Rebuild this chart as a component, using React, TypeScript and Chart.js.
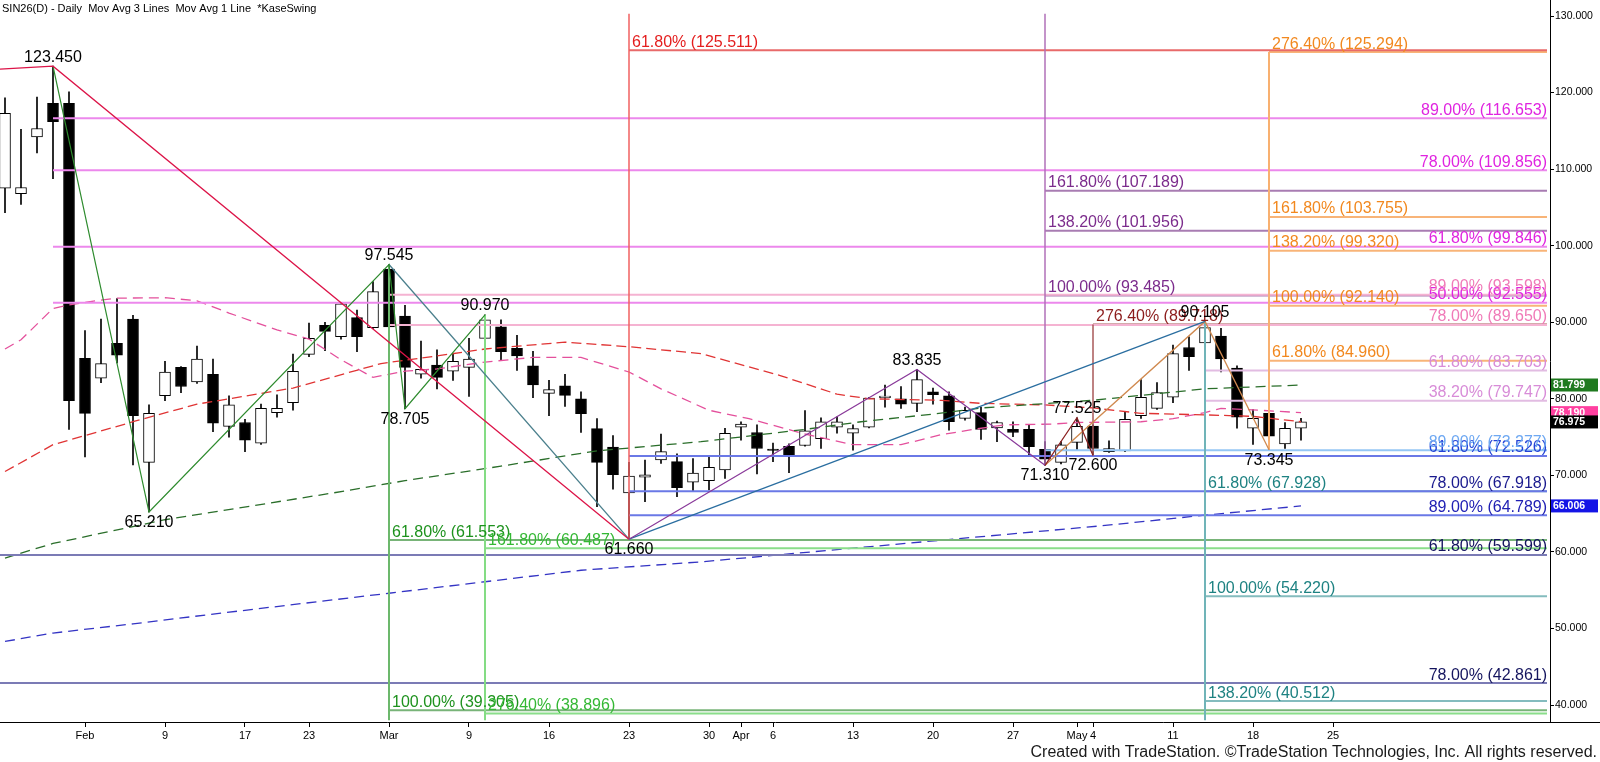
import React, { useEffect, useRef } from 'react';
import { Chart, registerables } from 'chart.js';

Chart.register(...registerables);

const FONT = '"Liberation Sans", Arial, Helvetica, sans-serif';

// ---- axis bounds (x = trading-day index, 0 = Jan 26 2026) ----
const X_MIN = -0.3125;
const X_MAX = 96.5625;
const Y_MIN = 37.78;
const Y_MAX = 132.09;
const LINE_END = 96.375;
const V_TOP = 130.3;
const V_BOTTOM = 38.0;

// ---- x tick labels ----
const xTickIdx = [5, 10, 15, 19, 24, 29, 34, 39, 44, 46, 48, 53, 58, 63, 67, 68, 73, 78, 83];
const xTickLabels = ['Feb', '9', '17', '23', 'Mar', '9', '16', '23', '30', 'Apr', '6', '13', '20', '27', 'May', '4', '11', '18', '25'];
const yTicks = [40, 50, 60, 70, 80, 90, 100, 110, 120, 130];

// ---- daily candles ----
const opens = [107.5, 106.8, 114.2, 118.6, 118.6, 85.3, 82.7, 87.25, 90.4, 71.7,
  80.4, 84.1, 82.2, 83.2, 76.4, 76.9, 74.2, 78.2, 79.5, 85.8,
  89.6, 88.1, 90.6, 89.3, 96.95, 90.8, 83.2, 84.4, 83.6, 84.1,
  87.9, 89.4, 86.6, 84.3, 80.7, 81.7, 80.0, 76.1, 73.7, 67.7,
  69.75, 72.0, 71.8, 69.1, 69.3, 70.7, 76.3, 75.6, 73.38, 73.8,
  73.9, 74.8, 76.3, 75.5, 76.3, 80.15, 80.0, 79.4, 80.9, 80.4,
  77.45, 78.2, 76.2, 76.0, 76.0, 73.4, 71.7, 74.3, 76.45, 73.1,
  73.2, 77.8, 78.75, 80.2, 86.7, 87.3, 88.2, 84.0, 76.15, 78.1,
  74.1, 76.15];
const highs = [119.3, 115.2, 119.4, 123.45, 120.1, 88.9, 90.4, 93.1, 90.9, 79.2,
  84.9, 84.2, 86.9, 85.2, 80.4, 77.3, 79.3, 80.5, 85.85, 89.9,
  90.0, 92.5, 91.6, 95.3, 97.545, 92.2, 87.55, 86.4, 85.8, 87.9,
  90.97, 90.3, 88.3, 86.2, 82.4, 83.2, 80.9, 77.4, 75.2, 71.7,
  72.0, 75.4, 72.8, 72.2, 72.45, 76.15, 77.0, 76.6, 74.2, 74.1,
  78.45, 77.5, 77.65, 76.6, 80.2, 81.8, 81.6, 83.835, 81.4, 80.9,
  78.9, 78.9, 77.1, 77.0, 76.6, 74.4, 74.4, 77.525, 76.6, 74.5,
  78.3, 82.5, 82.1, 87.0, 88.1, 90.105, 89.2, 84.3, 78.6, 79.4,
  76.9, 77.45];
const lows = [104.3, 105.4, 112.1, 108.75, 76.0, 72.4, 82.1, 84.7, 71.35, 65.21,
  79.75, 80.8, 82.0, 75.7, 75.0, 73.1, 74.05, 77.6, 78.5, 85.5,
  86.3, 87.8, 86.15, 89.2, 88.5, 78.705, 82.7, 81.3, 82.4, 80.3,
  86.8, 85.1, 83.7, 80.15, 77.8, 79.0, 75.6, 65.9, 68.2, 61.66,
  66.55, 71.55, 67.2, 67.9, 68.1, 69.6, 74.6, 70.2, 71.8, 70.35,
  73.8, 73.5, 75.5, 73.3, 76.2, 78.9, 78.75, 78.3, 79.3, 75.9,
  77.2, 74.7, 74.4, 75.05, 72.5, 71.31, 71.5, 73.4, 72.6, 73.0,
  73.1, 77.45, 78.6, 79.5, 83.7, 86.3, 83.5, 76.15, 74.05, 73.345,
  73.5, 74.6];
const closes = [117.3, 107.6, 115.3, 116.2, 79.75, 78.1, 84.6, 85.7, 77.8, 78.1,
  83.5, 81.6, 85.2, 76.8, 79.2, 74.6, 78.75, 78.75, 83.6, 87.9,
  88.8, 92.4, 88.1, 94.0, 89.4, 84.1, 83.85, 82.8, 84.9, 85.2,
  90.3, 86.15, 85.6, 81.8, 81.2, 80.45, 78.05, 71.7, 70.1, 69.9,
  70.05, 73.1, 68.4, 70.3, 71.05, 75.5, 76.7, 73.5, 73.25, 72.45,
  75.8, 77.0, 77.0, 76.1, 80.1, 80.3, 79.3, 82.5, 80.55, 77.0,
  78.5, 76.0, 76.9, 75.6, 73.75, 72.1, 74.0, 76.4, 73.5, 73.5,
  77.3, 80.2, 80.8, 85.9, 85.5, 89.3, 85.2, 77.6, 77.45, 75.1,
  76.15, 76.975];

// ---- moving averages (sampled) ----
const pinkMaIdx = [0, 1, 3, 4, 6, 7, 10, 12, 14, 17, 19, 21, 23, 25, 27, 30, 33, 36, 39, 41, 44, 46.5, 50, 53, 56, 58.5, 60.5, 62.5, 65.5, 67, 71, 73, 75, 76, 78, 81];
const pinkMaVal = [86.5, 87.7, 91.8, 92.25, 92.9, 93.15, 93.2, 92.8, 91.2, 89.0, 87.8, 85.1, 82.8, 83.6, 83.9, 84.8, 85.4, 85.4, 83.5, 81.3, 78.5, 77.4, 75.4, 74.0, 74.0, 75.3, 76.0, 76.6, 76.7, 76.9, 77.0, 77.4, 78.2, 78.75, 78.55, 78.19];
const redMaIdx = [0, 3, 8, 12, 18, 23.5, 27, 30, 35, 39, 43.5, 48.5, 52, 54, 58.5, 61, 65, 68, 71, 75, 78, 81];
const redMaVal = [70.5, 74.0, 77.0, 79.3, 81.4, 84.6, 85.6, 86.5, 87.4, 86.8, 85.9, 83.0, 80.6, 80.0, 79.8, 79.4, 79.2, 78.8, 78.1, 77.9, 77.7, 77.0];
const greenMaIdx = [0, 3, 10, 20.5, 25, 31, 37, 43.5, 50, 53.5, 58, 61, 68, 75, 81];
const greenMaVal = [59.2, 61.1, 64.2, 67.7, 69.3, 71.2, 73.2, 74.4, 76.0, 77.0, 78.0, 78.8, 79.8, 81.3, 81.8];
const blueMaIdx = [0, 3, 8, 13.5, 24, 30, 36, 43.5, 52, 68.5, 75, 81];
const blueMaVal = [48.3, 49.4, 50.6, 52.0, 54.6, 56.1, 57.6, 58.7, 60.3, 63.4, 64.8, 66.0];

// ---- swing lines ----
const crimsonSwingIdx = [X_MIN, 3, 39];
const crimsonSwingVal = [123.05, 123.45, 61.66];
const greenSwingIdx = [3, 9, 24, 25, 30];
const greenSwingVal = [123.45, 65.21, 97.545, 78.705, 90.97];
const slateSwingIdx = [24, 39];
const slateSwingVal = [97.545, 61.66];
const purpleSwingIdx = [39, 57, 65];
const purpleSwingVal = [61.66, 83.835, 71.31];
const blueSwingIdx = [39, 75];
const blueSwingVal = [61.66, 90.105];
const maroonSwingIdx = [65, 67, 68];
const maroonSwingVal = [71.31, 77.525, 72.6];
const tanSwingIdx = [65, 75, 79];
const tanSwingVal = [71.31, 90.105, 73.345];

// ---- pivot labels ----
const pivotIdx = [3, 9, 24, 25, 30, 39, 57, 65, 67, 68, 75, 79];
const pivotVal = [123.45, 65.21, 97.545, 78.705, 90.97, 61.66, 83.835, 71.31, 77.525, 72.6, 90.105, 73.345];
const pivotHigh = [true, false, true, false, true, false, true, false, true, false, true, false];

// ---- fibonacci levels ----
const navyFibVals = [59.599, 42.861];
const navyFibPcts = ['61.80%', '78.00%'];
const magentaFibVals = [116.653, 109.856, 99.846, 92.555];
const magentaFibPcts = ['89.00%', '78.00%', '61.80%', '50.00%'];
const pinkFibVals = [93.598, 89.65];
const pinkFibPcts = ['89.00%', '78.00%'];
const plumFibVals = [83.703, 79.747];
const plumFibPcts = ['61.80%', '38.20%'];
const blueFibVals = [72.526, 67.918, 64.789];
const blueFibPcts = ['61.80%', '78.00%', '89.00%'];
const skyFibVals = [73.277];
const skyFibPcts = ['89.00%'];
const redFibVals = [125.511];
const redFibPcts = ['61.80%'];
const purpleFibVals = [107.189, 101.956, 93.485];
const purpleFibPcts = ['161.80%', '138.20%', '100.00%'];
const maroonFibVals = [89.718];
const maroonFibPcts = ['276.40%'];
const orangeFibVals = [125.294, 103.755, 99.32, 92.14, 84.96];
const orangeFibPcts = ['276.40%', '161.80%', '138.20%', '100.00%', '61.80%'];
const tealFibVals = [67.928, 54.22, 40.512];
const tealFibPcts = ['61.80%', '100.00%', '138.20%'];
const greenFibVals = [61.553, 39.305];
const greenFibPcts = ['61.80%', '100.00%'];
const lightGreenFibVals = [60.487, 38.896];
const lightGreenFibPcts = ['161.80%', '276.40%'];

// ---- vertical projection lines ----
const vertIdx = [24, 30, 39, 65, 68, 75, 79];
const vertFrom = [97.545, 90.97, 61.66, 71.31, 72.6, 90.105, 73.345];
const vertTo = [V_BOTTOM, V_BOTTOM, V_TOP, V_TOP, 89.718, V_BOTTOM, 125.294];
const vertColors = ['#6cb86c', '#84dc84', '#f06060', '#b070b8', '#a85858', '#70b4b8', '#f8b070'];
const vertWidths = [2, 2, 1.5, 1.5, 1.5, 2, 2];

// ---- last-value flags ----
const flagVals = [81.799, 78.19, 76.975, 66.006];
const flagColors = ['#1f7a1f', '#ff40a0', '#000000', '#1414e6'];

const fibGroups = [
  { vals: navyFibVals, pcts: navyFibPcts, start: X_MIN, line: '#7b7bb5', text: ['#14145e', '#14145e'], align: 'right' },
  { vals: magentaFibVals, pcts: magentaFibPcts, start: 3, line: '#ec88ec', text: ['#e024e0', '#e024e0', '#e024e0', '#e024e0'], align: 'right' },
  { vals: pinkFibVals, pcts: pinkFibPcts, start: 24, line: '#f5b3d2', text: ['#f07ab8', '#f07ab8'], align: 'right' },
  { vals: plumFibVals, pcts: plumFibPcts, start: 75, line: '#e2bce2', text: ['#d88cd8', '#d88cd8'], align: 'right' },
  { vals: blueFibVals, pcts: blueFibPcts, start: 39, line: '#6a78e6', text: ['#2442d6', '#1a1a8e', '#2020b4'], align: 'right' },
  { vals: skyFibVals, pcts: skyFibPcts, start: 65, line: '#94c6f4', text: ['#6ea8f2'], align: 'right' },
  { vals: redFibVals, pcts: redFibPcts, start: 39, line: '#e86a6a', text: ['#e41e1e'], align: 'left' },
  { vals: purpleFibVals, pcts: purpleFibPcts, start: 65, line: '#a87cb2', text: ['#7c2c8c', '#7c2c8c', '#7c2c8c'], align: 'left' },
  { vals: maroonFibVals, pcts: maroonFibPcts, start: 68, line: '#a85a5a', text: ['#8c1c1c'], align: 'left' },
  { vals: orangeFibVals, pcts: orangeFibPcts, start: 79, line: '#f8b478', text: ['#f2881e', '#f2881e', '#f2881e', '#f2881e', '#f2881e'], align: 'left' },
  { vals: tealFibVals, pcts: tealFibPcts, start: 75, line: '#84bcbe', text: ['#1e8282', '#1e8282', '#1e8282'], align: 'left' },
  { vals: greenFibVals, pcts: greenFibPcts, start: 24, line: '#78b478', text: ['#1e921e', '#1e921e'], align: 'left' },
  { vals: lightGreenFibVals, pcts: lightGreenFibPcts, start: 30, line: '#8ade8a', text: ['#34b834', '#34b834'], align: 'left' },
];

function lineDs(xs: number[], ys: number[], color: string, width: number, dash: number[] = [], order = 10) {
  return {
    type: 'line',
    data: xs.map((x, i) => ({ x, y: ys[i] })),
    borderColor: color,
    borderWidth: width,
    borderDash: dash,
    pointRadius: 0,
    pointHoverRadius: 0,
    fill: false,
    tension: 0,
    order,
  };
}

const overlayPlugin = {
  id: 'overlay',
  afterDatasetsDraw(chart: any) {
    const ctx = chart.ctx;
    const xs = chart.scales.x;
    const ys = chart.scales.y;
    const right = xs.getPixelForValue(LINE_END);
    ctx.save();
    ctx.font = `16px ${FONT}`;
    ctx.textBaseline = 'alphabetic';
    fibGroups.forEach((g) => {
      g.vals.forEach((v, i) => {
        const y = ys.getPixelForValue(v) - 3.5;
        const label = `${g.pcts[i]} (${v.toFixed(3)})`;
        ctx.fillStyle = g.text[i];
        if (g.align === 'left') {
          ctx.textAlign = 'left';
          ctx.fillText(label, xs.getPixelForValue(g.start) + 3, y);
        } else {
          ctx.textAlign = 'right';
          ctx.fillText(label, right, y);
        }
      });
    });
    ctx.fillStyle = '#000';
    ctx.textAlign = 'center';
    pivotIdx.forEach((ix, i) => {
      const px = xs.getPixelForValue(ix);
      const py = ys.getPixelForValue(pivotVal[i]);
      ctx.fillText(pivotVal[i].toFixed(3), px, pivotHigh[i] ? py - 4.5 : py + 15);
    });
    ctx.restore();
  },
  afterDraw(chart: any) {
    const ctx = chart.ctx;
    const ys = chart.scales.y;
    const area = chart.chartArea;
    ctx.save();
    // axis line continues under the price scale
    ctx.strokeStyle = '#000';
    ctx.lineWidth = 1;
    ctx.beginPath();
    ctx.moveTo(area.right, Math.round(area.bottom) + 0.5);
    ctx.lineTo(chart.width, Math.round(area.bottom) + 0.5);
    ctx.stroke();
    // title
    ctx.fillStyle = '#000';
    ctx.font = `11px ${FONT}`;
    ctx.textAlign = 'left';
    ctx.textBaseline = 'alphabetic';
    ctx.fillText('SIN26(D) - Daily  Mov Avg 3 Lines  Mov Avg 1 Line  *KaseSwing', 2, 12);
    // footer
    ctx.font = `16px ${FONT}`;
    ctx.textAlign = 'right';
    ctx.fillStyle = '#1a1a1a';
    ctx.fillText('Created with TradeStation. \u00A9TradeStation Technologies, Inc. All rights reserved.', chart.width - 3, 757);
    // flags
    ctx.font = `bold 10.5px ${FONT}`;
    ctx.textAlign = 'left';
    ctx.textBaseline = 'middle';
    flagVals.forEach((v, i) => {
      const y = ys.getPixelForValue(v);
      ctx.fillStyle = flagColors[i];
      ctx.fillRect(area.right + 1, y - 6.5, 47, 13);
      ctx.fillStyle = '#fff';
      ctx.fillText(v.toFixed(3), area.right + 3, y + 0.5);
    });
    ctx.restore();
  },
};

export default function App() {
  const ref = useRef<HTMLCanvasElement>(null);
  useEffect(() => {
    document.body.style.margin = '0';
    Chart.defaults.font.family = FONT;
    const dayIdx = opens.map((_, i) => i);
    const datasets: any[] = [
      {
        type: 'bar',
        data: dayIdx.map((i) => ({ x: i, y: [lows[i], highs[i]] })),
        backgroundColor: '#000',
        borderWidth: 0,
        barThickness: 1,
        maxBarThickness: 1,
        grouped: false,
        order: 100,
      },
      {
        type: 'bar',
        data: dayIdx.map((i) => ({ x: i, y: [opens[i], closes[i]] })),
        backgroundColor: dayIdx.map((i) => (closes[i] >= opens[i] ? '#ffffff' : '#000000')),
        borderColor: '#000',
        borderWidth: 1,
        borderSkipped: false,
        barThickness: 11,
        maxBarThickness: 11,
        minBarLength: 1.5,
        grouped: false,
        order: 99,
      },
    ];
    // moving averages
    datasets.push(lineDs(blueMaIdx, blueMaVal, '#3434c4', 1.3, [10, 6], 40));
    datasets.push(lineDs(greenMaIdx, greenMaVal, '#2a6e2a', 1.3, [10, 6], 40));
    datasets.push(lineDs(redMaIdx, redMaVal, '#e03434', 1.3, [10, 5], 40));
    datasets.push(lineDs(pinkMaIdx, pinkMaVal, '#e4509c', 1.3, [10, 6], 40));
    // fib horizontals
    fibGroups.forEach((g) => {
      g.vals.forEach((v) => {
        datasets.push(lineDs([g.start, LINE_END], [v, v], g.line, 2, [], 30));
      });
    });
    // verticals
    vertIdx.forEach((ix, i) => {
      datasets.push(lineDs([ix, ix], [vertFrom[i], vertTo[i]], vertColors[i], vertWidths[i], [], 20));
    });
    // swings
    datasets.push(lineDs(crimsonSwingIdx, crimsonSwingVal, '#dc1448', 1.3, [], 5));
    datasets.push(lineDs(greenSwingIdx, greenSwingVal, '#2e8b2e', 1.2, [], 5));
    datasets.push(lineDs(slateSwingIdx, slateSwingVal, '#4a7f8c', 1.3, [], 5));
    datasets.push(lineDs(purpleSwingIdx, purpleSwingVal, '#8a3a9a', 1.2, [], 5));
    datasets.push(lineDs(blueSwingIdx, blueSwingVal, '#2a6ea0', 1.3, [], 5));
    datasets.push(lineDs(maroonSwingIdx, maroonSwingVal, '#8b2020', 1.2, [], 5));
    datasets.push(lineDs(tanSwingIdx, tanSwingVal, '#d08a50', 1.3, [], 5));

    const chart = new Chart(ref.current as HTMLCanvasElement, {
      type: 'bar',
      data: { datasets },
      options: {
        animation: false,
        responsive: false,
        events: [],
        layout: { padding: 0 },
        plugins: { legend: { display: false }, tooltip: { enabled: false }, title: { display: false } },
        scales: {
          x: {
            type: 'linear',
            min: X_MIN,
            max: X_MAX,
            offset: false,
            position: 'bottom',
            afterBuildTicks: (ax: any) => { ax.ticks = xTickIdx.map((value) => ({ value })); },
            afterFit: (ax: any) => { ax.height = 40; ax.paddingLeft = 0; ax.paddingRight = 0; },
            grid: { display: true, drawOnChartArea: false, drawTicks: true, tickLength: 5, color: '#000', offset: false },
            border: { display: true, color: '#000', width: 1 },
            ticks: {
              autoSkip: false, maxRotation: 0, minRotation: 0, padding: 2, color: '#000',
              font: { size: 11, family: FONT },
              callback: (v: any) => { const k = xTickIdx.indexOf(Number(v)); return k >= 0 ? xTickLabels[k] : ''; },
            },
          },
          y: {
            type: 'linear',
            position: 'right',
            min: Y_MIN,
            max: Y_MAX,
            afterBuildTicks: (ax: any) => { ax.ticks = yTicks.map((value) => ({ value })); },
            afterFit: (ax: any) => { ax.width = 50; ax.paddingTop = 0; ax.paddingBottom = 0; },
            grid: { display: true, drawOnChartArea: false, drawTicks: true, tickLength: 4, color: '#000' },
            border: { display: true, color: '#000', width: 1 },
            ticks: {
              padding: 1, color: '#000', font: { size: 10.5, family: FONT },
              callback: (v: any) => Number(v).toFixed(3),
            },
          },
        },
      } as any,
      plugins: [overlayPlugin],
    } as any);
    return () => chart.destroy();
  }, []);
  return (
    <div style={{ position: 'fixed', left: 0, top: 0, width: 1600, height: 762, background: '#fff' }}>
      <canvas ref={ref} width={1600} height={762} style={{ display: 'block', width: 1600, height: 762 }} />
    </div>
  );
}
